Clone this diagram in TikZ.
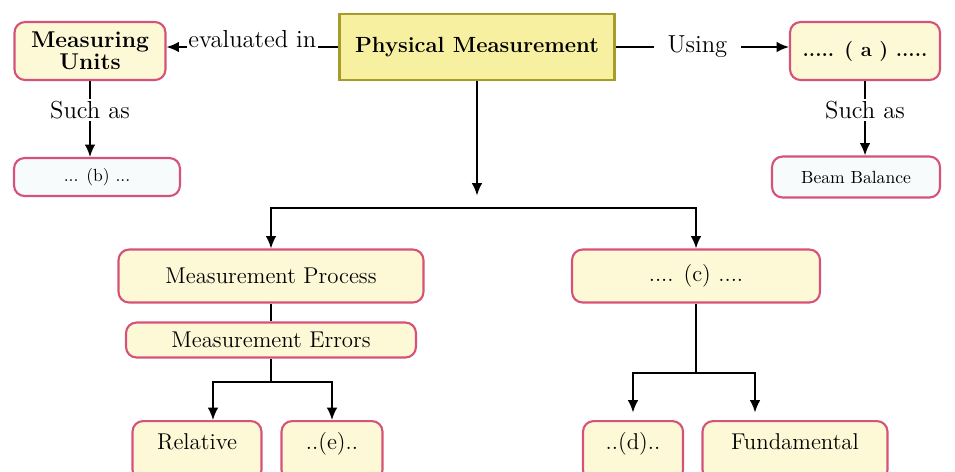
\documentclass[tikz,border=0pt]{standalone}
\usetikzlibrary{positioning,arrows.meta}
\definecolor{pinkline}{RGB}{214,82,120}
\definecolor{paleyellow}{RGB}{253,249,214}
\definecolor{mainfill}{RGB}{247,240,160}
\definecolor{mainline}{RGB}{168,155,42}
\definecolor{palewhite}{RGB}{248,251,252}
\begin{document}
\begin{tikzpicture}[%
            x=0.02cm, y=-0.02cm, >={Latex[length=7pt,width=6pt]},
            conbox/.style={draw=pinkline, line width=1.2pt, fill=paleyellow, rounded corners=6pt,
                           align=center, inner sep=2pt, font=\fontsize{13}{14}\selectfont},
            exbox/.style={conbox, fill=palewhite},
            kindbox/.style={conbox, anchor=north, text height=0.5cm, text depth=0.55cm},
            mainbox/.style={draw=mainline, line width=1.6pt, fill=mainfill,
                            font=\fontsize{12.5}{14}\selectfont\bfseries},
            linktext/.style={fill=white, inner sep=1pt, font=\fontsize{14}{15}\selectfont},
            link/.style={line width=1pt}
        ]
        \useasboundingbox (0,0) rectangle (955,471);
        % top row
        \node (phys) at (477,47) [mainbox, minimum width=5.5cm, minimum height=1.32cm] {Physical Measurement};
        \node (units) at (90,51) [conbox, minimum width=3.02cm, minimum height=1.16cm,
                                  font=\fontsize{13}{12.5}\selectfont\bfseries] {Measuring\\Units};
        \node (a) at (865,51) [conbox, minimum width=3cm, minimum height=1.16cm,
                               font=\fontsize{11.5}{14}\selectfont\bfseries] {..... ( a ) .....};
        \draw [link, ->] (phys.west) -- node [linktext, yshift=0.15cm] {evaluated in} (phys.west -| units.east);
        \draw [link, ->] (phys.east) -- node [linktext, inner xsep=8pt, xshift=-0.1cm] {Using} (phys.east -| a.west);
        % examples
        \node (such1) at (90,110) [linktext] {Such as};
        \node (such2) at (865,110) [linktext] {Such as};
        \node (b) at (97,177) [exbox, minimum width=3.32cm, minimum height=0.76cm,
                               font=\fontsize{10}{12}\selectfont] {... (b) ...};
        \node (beam) at (856,177) [exbox, minimum width=3.36cm, minimum height=0.82cm,
                                   font=\fontsize{10}{12}\selectfont] {Beam Balance};
        \draw [link] (units) -- (such1);
        \draw [link, ->] (such1) -- (such1 |- b.north);
        \draw [link] (a) -- (such2);
        \draw [link, ->] (such2) -- (such2 |- beam.north);
        % two branches
        \node (proc) at (271,276) [conbox, minimum width=6.1cm, minimum height=1.06cm] {Measurement Process};
        \node (errors) at (271,340) [conbox, minimum width=5.8cm, minimum height=0.7cm] {Measurement Errors};
        \node (c) at (696,276) [conbox, minimum width=4.96cm, minimum height=1.06cm] {.... (c) ....};
        \coordinate (split) at (477,208);
        \draw [link, ->, shorten >=0.25cm] (phys) -- (split);
        \draw [link, ->] (split) -| (proc);
        \draw [link, ->] (split) -| (c);
        \draw [link] (proc) -- (errors);
        % kinds
        \node (rel) at (197,420) [kindbox, minimum width=2.58cm] {Relative};
        \node (e) at (332,420) [kindbox, minimum width=2.02cm] {..(e)..};
        \node (d) at (633,420) [kindbox, minimum width=2cm] {..(d)..};
        \node (fund) at (795,420) [kindbox, minimum width=3.7cm] {Fundamental};
        \coordinate (esplit) at (271,382);
        \coordinate (csplit) at (696,373);
        \draw [link] (errors) -- (esplit);
        \draw [link, ->] (esplit) -| ([xshift=0.32cm]rel.north);
        \draw [link, ->] (esplit) -| (e);
        \draw [link] (c) -- (csplit);
        \draw [link, ->, shorten >=0.15cm] (csplit) -| (d);
        \draw [link, ->, shorten >=0.15cm] (csplit) -| ([xshift=-0.8cm]fund.north);
    \end{tikzpicture}
\end{document}
